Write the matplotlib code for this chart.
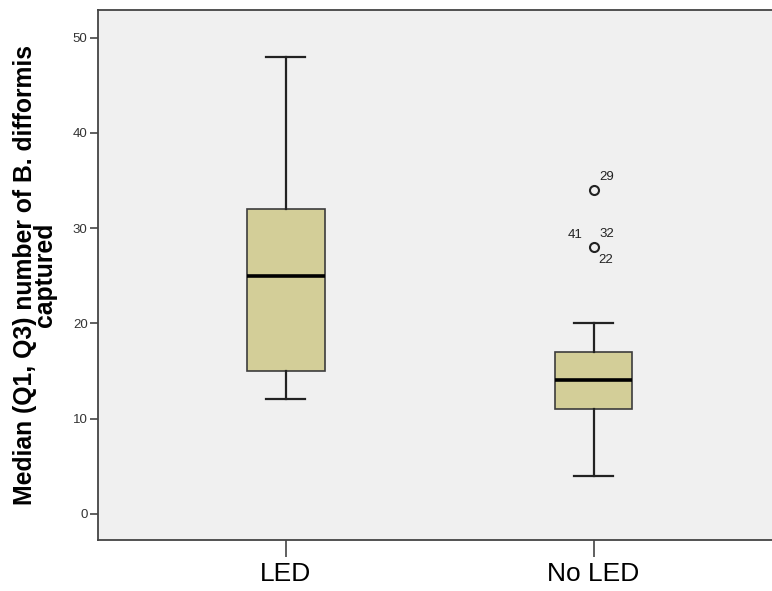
import matplotlib.pyplot as plt

plt.rcParams['font.family'] = ['Liberation Sans', 'DejaVu Sans']

# Group summaries (whiskers, quartiles, median) and flagged outliers
groups = ['LED', 'No LED']
whislo = [12, 4]
q1 = [15, 11]
med = [25, 14]
q3 = [32, 17]
whishi = [48, 20]
fliers = [[], [34, 28]]

# Case numbers printed next to outliers: (group index, value, label, side)
outlier_ids = [(1, 34, '29', 'right'), (1, 28, '32', 'right'),
               (1, 28, '22', 'below'), (1, 28, '41', 'left')]

stats = []
for i, g in enumerate(groups):
    stats.append({'label': g, 'whislo': whislo[i], 'q1': q1[i], 'med': med[i],
                  'q3': q3[i], 'whishi': whishi[i], 'fliers': fliers[i]})

fig = plt.figure(figsize=(7.72, 5.91), dpi=100)
ax = fig.add_axes([0.127, 0.0863, 0.873, 0.8967])
ax.set_facecolor('#F0F0F0')

ax.bxp(stats, positions=[1, 2], widths=0.253, patch_artist=True,
       boxprops=dict(facecolor='#D3CE98', edgecolor='#3C3C3C', linewidth=1.2),
       medianprops=dict(color='black', linewidth=2.6),
       whiskerprops=dict(color='#222222', linewidth=1.6),
       capprops=dict(color='#222222', linewidth=1.6),
       capwidths=0.127,
       flierprops=dict(marker='o', markersize=6.5, markerfacecolor='none',
                       markeredgecolor='#222222', markeredgewidth=1.5))

offsets = {'right': (6, 13, 'left'), 'left': (-11, 12, 'right'), 'below': (5, -13, 'left')}
for gi, val, lab, side in outlier_ids:
    dx, dy, ha = offsets[side]
    ax.annotate(lab, (gi + 1, val), xytext=(dx, dy), textcoords='offset pixels',
                ha=ha, va='center', fontsize=9.5, color='#222222')

ax.set_xlim(0.39, 2.58)
ax.set_ylim(-2.76, 52.9)
ax.set_yticks([0, 10, 20, 30, 40, 50])
ax.set_xticks([1, 2])
ax.set_xticklabels(groups)

ax.tick_params(axis='y', direction='out', length=6, width=1.2, color='#444444',
               labelsize=9.5, labelcolor='#333333', pad=1.5)
ax.tick_params(axis='x', direction='out', length=12, width=1.2, color='#444444',
               labelsize=19, labelcolor='black', pad=4)

for side in ['left', 'top', 'bottom']:
    ax.spines[side].set_color('#444444')
    ax.spines[side].set_linewidth(1.3)
ax.spines['right'].set_visible(False)

ax.set_ylabel('Median (Q1, Q3) number of B. difformis\ncaptured',
              fontsize=17.8, fontweight='bold', linespacing=0.82, labelpad=11)

fig.savefig('out.png', dpi=100)
